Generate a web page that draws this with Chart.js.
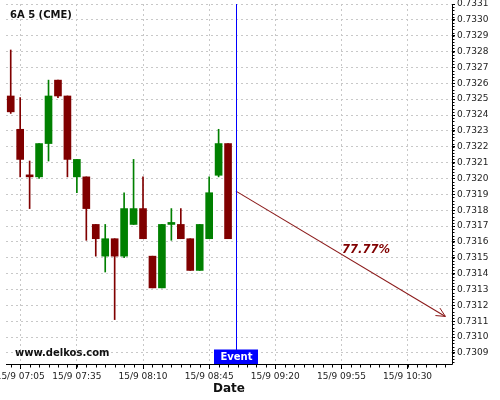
<!DOCTYPE html>
<html>
<head>
<meta charset="utf-8">
<script src="https://cdn.jsdelivr.net/npm/chart.js@4.4.1/dist/chart.umd.min.js"></script>
<style>
  html, body { margin: 0; padding: 0; background: #fff; }
  canvas { display: block; }
</style>
</head>
<body>
<canvas id="chart" width="500" height="400"></canvas>
<script>
// 5 minute candles, 15/9
const times = ['07:00', '07:05', '07:10', '07:15', '07:20', '07:25', '07:30', '07:35',
  '07:40', '07:45', '07:50', '07:55', '08:00', '08:05', '08:10', '08:15',
  '08:20', '08:25', '08:30', '08:35', '08:40', '08:45', '08:50', '08:55'];
const openPrices = [0.73252, 0.73231, 0.73202, 0.73201, 0.73222, 0.73262, 0.73252, 0.73201,
  0.73201, 0.73171, 0.73151, 0.73162, 0.73151, 0.73171, 0.73181, 0.73151,
  0.73131, 0.73171, 0.73171, 0.73162, 0.73142, 0.73162, 0.73202, 0.73222];
const highPrices = [0.73281, 0.73251, 0.73211, 0.73222, 0.73262, 0.73262, 0.73252, 0.73212,
  0.73201, 0.73171, 0.73171, 0.73162, 0.73191, 0.73212, 0.73201, 0.73151,
  0.73171, 0.73181, 0.73181, 0.73162, 0.73171, 0.73201, 0.73231, 0.73222];
const lowPrices = [0.73241, 0.73201, 0.73181, 0.73200, 0.73211, 0.73251, 0.73201, 0.73191,
  0.73161, 0.73151, 0.73141, 0.73111, 0.73150, 0.73171, 0.73162, 0.73131,
  0.73131, 0.73161, 0.73162, 0.73142, 0.73142, 0.73162, 0.73201, 0.73162];
const closePrices = [0.73242, 0.73212, 0.73201, 0.73222, 0.73252, 0.73252, 0.73212, 0.73212,
  0.73181, 0.73162, 0.73162, 0.73151, 0.73181, 0.73181, 0.73162, 0.73131,
  0.73171, 0.73172, 0.73162, 0.73142, 0.73171, 0.73191, 0.73222, 0.73162];

const xTickTimes = ['07:05', '07:35', '08:10', '08:45', '09:20', '09:55', '10:30'];
const xRange = ['06:57:30', '10:53:30'];
const yRange = [0.73083, 0.73310];

const eventTime = '08:59:10';
const arrowTimes = ['08:59:10', '10:50'];
const arrowPrices = [0.73192, 0.73113];
const probability = '77.77%';
const probabilityAt = ['10:08', 0.73155];

const FONT = "'DejaVu Sans', sans-serif";
const UP = '#008000';
const DOWN = '#800000';
const ARROW = '#8b1a1a';

function toMinutes(t) {
  const p = t.split(':').map(Number);
  return p[0] * 60 + p[1] + (p[2] || 0) / 60;
}
function fmtTime(v) {
  const h = Math.floor(v / 60), m = Math.round(v - h * 60);
  return String(h).padStart(2, '0') + ':' + String(m).padStart(2, '0');
}

const candleColors = closePrices.map((c, i) => (c >= openPrices[i] ? UP : DOWN));
const bodies = times.map((t, i) => ({ x: toMinutes(t), y: [openPrices[i], closePrices[i]] }));
const wicks = times.map((t, i) => ({ x: toMinutes(t), y: [lowPrices[i], highPrices[i]] }));
const arrowLine = arrowTimes.map((t, i) => ({ x: toMinutes(t), y: arrowPrices[i] }));

// everything that is not a candle: event marker, arrow head, texts, axis lines, minor ticks
const decorations = {
  id: 'decorations',
  afterDatasetsDraw(chart) {
    const ctx = chart.ctx;
    const area = chart.chartArea;
    const xs = chart.scales.x, ys = chart.scales.y;

    // event line
    const ex = Math.round(xs.getPixelForValue(toMinutes(eventTime))) + 0.5;
    ctx.save();
    ctx.strokeStyle = '#0000ff';
    ctx.lineWidth = 1;
    ctx.beginPath();
    ctx.moveTo(ex, area.top);
    ctx.lineTo(ex, area.bottom);
    ctx.stroke();

    // arrow head
    const pts = chart.getDatasetMeta(2).data;
    const a = pts[0], b = pts[1];
    const ang = Math.atan2(b.y - a.y, b.x - a.x);
    ctx.strokeStyle = ARROW;
    ctx.beginPath();
    [-0.45, 0.45].forEach(d => {
      ctx.moveTo(b.x, b.y);
      ctx.lineTo(b.x - 10 * Math.cos(ang + d), b.y - 10 * Math.sin(ang + d));
    });
    ctx.stroke();

    // probability text
    ctx.fillStyle = DOWN;
    ctx.font = 'italic bold 11.5px ' + FONT;
    ctx.textAlign = 'center';
    ctx.textBaseline = 'middle';
    ctx.fillText(probability, xs.getPixelForValue(toMinutes(probabilityAt[0])), ys.getPixelForValue(probabilityAt[1]));

    // event label
    ctx.fillStyle = '#0000ff';
    ctx.fillRect(ex - 22.5, area.bottom - 14.5, 44, 14.5);
    ctx.fillStyle = '#ffffff';
    ctx.font = 'bold 10px ' + FONT;
    ctx.fillText('Event', ex, area.bottom - 7);

    // title and watermark
    ctx.fillStyle = '#111';
    ctx.textAlign = 'left';
    ctx.fillText('6A 5 (CME)', area.left + 4, area.top + 11.5);
    ctx.fillText('www.delkos.com', area.left + 9, area.bottom - 10.5);
    ctx.restore();
  },
  afterDraw(chart) {
    const ctx = chart.ctx;
    const area = chart.chartArea;
    const xs = chart.scales.x, ys = chart.scales.y;
    ctx.save();
    ctx.strokeStyle = '#000';
    ctx.lineWidth = 1;
    ctx.beginPath();
    // axis lines
    const bx = Math.round(area.bottom) + 0.5, rx = Math.round(area.right) + 0.5;
    ctx.moveTo(area.left, bx);
    ctx.lineTo(rx, bx);
    ctx.moveTo(rx, area.top);
    ctx.lineTo(rx, bx);
    // minor ticks
    for (let v = Math.ceil(xs.min / 5) * 5; v <= xs.max; v += 5) {
      const px = Math.round(xs.getPixelForValue(v)) + 0.5;
      ctx.moveTo(px, bx);
      ctx.lineTo(px, bx + 3);
    }
    for (let k = Math.ceil(ys.min / 0.00002); k * 0.00002 <= ys.max; k++) {
      const py = Math.round(ys.getPixelForValue(k * 0.00002)) + 0.5;
      ctx.moveTo(rx, py);
      ctx.lineTo(rx + 2, py);
    }
    ctx.stroke();
    ctx.restore();
  }
};

new Chart(document.getElementById('chart'), {
  type: 'bar',
  data: {
    datasets: [
      {
        label: 'body',
        data: bodies,
        backgroundColor: candleColors,
        borderWidth: 0,
        barThickness: 7,
        minBarLength: 2,
        grouped: false
      },
      {
        label: 'wick',
        data: wicks,
        backgroundColor: candleColors,
        borderWidth: 0,
        barThickness: 1,
        grouped: false
      },
      {
        type: 'line',
        label: 'forecast',
        data: arrowLine,
        borderColor: ARROW,
        borderWidth: 1.1,
        pointRadius: 0,
        fill: false
      }
    ]
  },
  options: {
    responsive: false,
    animation: false,
    devicePixelRatio: 1,
    layout: { padding: { left: 6, top: 4, right: 0, bottom: 0 } },
    plugins: {
      legend: { display: false },
      tooltip: { enabled: false },
      title: { display: false }
    },
    scales: {
      x: {
        type: 'linear',
        offset: false,
        min: toMinutes(xRange[0]),
        max: toMinutes(xRange[1]),
        afterBuildTicks(scale) {
          scale.ticks = xTickTimes.map(t => ({ value: toMinutes(t) }));
        },
        afterFit(scale) {
          scale.height = 36;
          scale.paddingLeft = 0;
          scale.paddingRight = 0;
        },
        ticks: {
          autoSkip: false,
          maxRotation: 0,
          padding: 2,
          color: '#222',
          font: { family: FONT, size: 9 },
          callback: v => '15/9 ' + fmtTime(v)
        },
        grid: {
          offset: false,
          color: '#c8c8c8',
          tickColor: '#000',
          tickLength: 5
        },
        border: { display: false, dash: [2, 3] },
        title: {
          display: true,
          text: 'Date',
          color: '#111',
          font: { family: FONT, size: 12, weight: 'bold' },
          padding: { top: 0, bottom: 4 }
        }
      },
      y: {
        type: 'linear',
        position: 'right',
        min: yRange[0],
        max: yRange[1],
        afterBuildTicks(scale) {
          const out = [];
          for (let k = Math.ceil(scale.min * 10000); k / 10000 <= scale.max + 1e-9; k++) {
            out.push({ value: k / 10000 });
          }
          scale.ticks = out;
        },
        afterFit(scale) {
          scale.width = 48;
          scale.paddingTop = 0;
          scale.paddingBottom = 0;
        },
        ticks: {
          padding: 2,
          color: '#222',
          font: { family: FONT, size: 9 },
          callback: v => v.toFixed(4)
        },
        grid: {
          color: '#c8c8c8',
          tickColor: '#000',
          tickLength: 3
        },
        border: { display: false, dash: [2, 3] }
      }
    }
  },
  plugins: [decorations]
});
</script>
</body>
</html>
